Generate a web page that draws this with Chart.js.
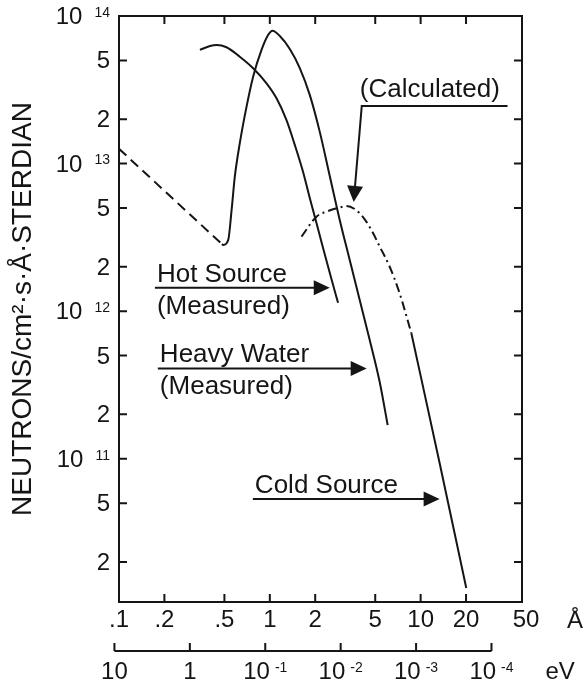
<!DOCTYPE html>
<html lang="en">
<head>
<meta charset="UTF-8">
<title>Neutron spectra</title>
<style>
  html, body { margin: 0; padding: 0; background: #fff; }
  canvas { display: block; }
</style>
</head>
<body>
<canvas id="myChart" width="587" height="692"></canvas>

<script src="https://cdn.jsdelivr.net/npm/chart.js"></script>
<script>
// values: wavelength in Å, flux in n/cm²·s·Å·sr
const heavyExtrapLambda = [0.1, 0.481];
const heavyExtrapFlux   = [1.26e13, 2.85e12];

const heavyLambda = [0.481, 0.491, 0.530, 0.558, 0.586, 0.632, 0.701, 0.775, 0.881, 0.974, 1.042, 1.165, 1.357, 1.580, 1.840, 2.144, 2.497, 2.908, 3.387, 3.945, 4.596, 5.353, 6.046];
const heavyFlux   = [2.85e12, 2.81e12, 3.04e12, 4.85e12, 8.15e12, 1.37e13, 2.43e13, 3.88e13, 5.89e13, 7.43e13, 7.95e13, 7.32e13, 5.98e13, 4.44e13, 2.92e13, 1.64e13, 8.24e12, 4.15e12, 2.22e12, 1.19e12, 6.38e11, 3.31e11, 1.69e11];

const hotLambda = [0.344, 0.401, 0.444, 0.516, 0.632, 0.775, 0.951, 1.108, 1.290, 1.464, 1.662, 1.840, 2.039, 2.254, 2.562, 2.834];
const hotFlux   = [5.89e13, 6.26e13, 6.36e13, 6.14e13, 5.30e13, 4.43e13, 3.50e13, 2.77e13, 1.97e13, 1.34e13, 8.77e12, 5.85e12, 3.96e12, 2.68e12, 1.65e12, 1.14e12];

const coldCalcLambda = [1.622, 2.039, 2.374, 3.058, 3.221, 3.945, 4.716, 5.353, 6.234, 7.26, 8.68];
const coldCalcFlux   = [3.20e12, 4.37e12, 4.72e12, 5.11e12, 5.16e12, 4.61e12, 3.55e12, 2.74e12, 2.00e12, 1.32e12, 7.08e11];

const coldLambda = [8.68, 13.36, 20.07];
const coldFlux   = [7.08e11, 9.37e10, 1.33e10];

// axes
const xTicks  = [0.1, 0.2, 0.5, 1, 2, 5, 10, 20, 50];
const xLabels = ['.1', '.2', '.5', '1', '2', '5', '10', '20', '50'];
const yTicks  = [1e14, 5e13, 2e13, 1e13, 5e12, 2e12, 1e12, 5e11, 2e11, 1e11, 5e10, 2e10];
const yLabels = ['10^14', '5', '2', '10^13', '5', '2', '10^12', '5', '2', '10^11', '5', '2'];
const evTicks  = [10, 1, 0.1, 0.01, 0.001, 0.0001];
const evLabels = ['10', '1', '10^-1', '10^-2', '10^-3', '10^-4'];
const EV_A2 = 0.087;   // E(eV) ~ EV_A2 / λ²  (as drawn on this figure)

const INK = '#151515';
const FONT = '"Liberation Sans", Arial, Helvetica, sans-serif';

function series(label, xs, ys, dash) {
    return {
        label: label,
        data: xs.map((v, i) => ({ x: v, y: ys[i] })),
        borderColor: INK,
        borderWidth: 2,
        borderDash: dash,
        pointRadius: 0,
        fill: false,
        cubicInterpolationMode: 'monotone'
    };
}

// draws "10^14" style labels with a raised small exponent
function drawPow(ctx, label, x, baseline, align, size, gap) {
    const [base, exp] = label.split('^');
    ctx.font = size + 'px ' + FONT;
    const wb = ctx.measureText(base).width;
    let we = 0;
    const small = Math.round(size * 0.6) + 'px ' + FONT;
    if (exp) { ctx.font = small; we = ctx.measureText(exp).width + gap; }
    const total = wb + we;
    let left = align === 'right' ? x - total : (align === 'center' ? x - total / 2 : x);
    ctx.textAlign = 'left';
    ctx.textBaseline = 'alphabetic';
    ctx.font = size + 'px ' + FONT;
    ctx.fillText(base, left, baseline);
    if (exp) {
        ctx.font = small;
        ctx.fillText(exp, left + wb + gap, baseline - size * 0.3);
    }
}

function arrowHead(ctx, tx, ty, angle, len, half) {
    ctx.save();
    ctx.translate(tx, ty);
    ctx.rotate(angle);
    ctx.beginPath();
    ctx.moveTo(0, 0);
    ctx.lineTo(-len, -half);
    ctx.lineTo(-len, half);
    ctx.closePath();
    ctx.fill();
    ctx.restore();
}

// labels pointing at the curves (anchored in data space)
const notes = [
    { lines: ['Hot Source', '(Measured)'], from: 0.173, to: 2.497, at: 1.44e12 },
    { lines: ['Heavy Water', '(Measured)'], from: 0.181, to: 4.39, at: 4.09e11 },
    { lines: ['Cold Source'], from: 0.772, to: 13.36, at: 5.34e10 }
];
const calcNote = { text: '(Calculated)', from: 4.07, to: 37.7, at: 2.46e13, tipX: 3.60, tipY: 5.5e12 };

const frame = {
    id: 'frame',
    afterDraw(chart) {
        const ctx = chart.ctx;
        const a = chart.chartArea;
        const x = chart.scales.x, y = chart.scales.y;
        const TICK = 8;
        ctx.save();
        ctx.strokeStyle = INK;
        ctx.fillStyle = INK;
        ctx.lineWidth = 2;

        // top and right edges of the box
        ctx.beginPath();
        ctx.moveTo(a.left, a.top);
        ctx.lineTo(a.right, a.top);
        ctx.lineTo(a.right, a.bottom);
        ctx.stroke();

        // inward ticks on all four sides
        ctx.beginPath();
        xTicks.forEach(v => {
            const px = x.getPixelForValue(v);
            if (px < a.left + 3 || px > a.right - 3) return;
            ctx.moveTo(px, a.bottom); ctx.lineTo(px, a.bottom - TICK);
            ctx.moveTo(px, a.top); ctx.lineTo(px, a.top + TICK);
        });
        yTicks.forEach(v => {
            const py = y.getPixelForValue(v);
            if (py < a.top + 3 || py > a.bottom - 3) return;
            ctx.moveTo(a.left, py); ctx.lineTo(a.left + TICK, py);
            ctx.moveTo(a.right, py); ctx.lineTo(a.right - TICK, py);
        });
        ctx.stroke();

        // y tick labels
        yTicks.forEach((v, i) => {
            const py = y.getPixelForValue(v);
            drawPow(ctx, yLabels[i], a.left - 9, py + 8, 'right', 24, 12);
        });

        // unit after the wavelength labels
        ctx.font = '24px ' + FONT;
        ctx.textAlign = 'left';
        ctx.textBaseline = 'alphabetic';
        ctx.fillText('Å', a.right + 45, a.bottom + 26);

        // energy axis
        const evY = a.bottom + 49;
        const evPx = e => x.getPixelForValue(Math.sqrt(EV_A2 / e));
        ctx.beginPath();
        ctx.moveTo(evPx(evTicks[0]), evY);
        ctx.lineTo(evPx(evTicks[evTicks.length - 1]), evY);
        evTicks.forEach(e => {
            ctx.moveTo(evPx(e), evY);
            ctx.lineTo(evPx(e), evY - 8);
        });
        ctx.stroke();
        evTicks.forEach((e, i) => {
            drawPow(ctx, evLabels[i], evPx(e), a.bottom + 77, 'center', 24, 5);
        });
        ctx.font = '24px ' + FONT;
        ctx.textAlign = 'left';
        ctx.fillText('eV', evPx(evTicks[evTicks.length - 1]) + 54, a.bottom + 77);

        // annotations
        ctx.font = '26px ' + FONT;
        notes.forEach(n => {
            const x0 = x.getPixelForValue(n.from);
            const x1 = x.getPixelForValue(n.to);
            const ly = y.getPixelForValue(n.at);
            ctx.fillText(n.lines[0], x0 + 2, ly - 6);
            if (n.lines[1]) ctx.fillText(n.lines[1], x0 + 2, ly + 26);
            ctx.beginPath();
            ctx.moveTo(x0, ly);
            ctx.lineTo(x1 - 12, ly);
            ctx.stroke();
            arrowHead(ctx, x1, ly, 0, 16, 7.5);
        });

        const cx0 = x.getPixelForValue(calcNote.from);
        const cx1 = x.getPixelForValue(calcNote.to);
        const cy = y.getPixelForValue(calcNote.at);
        const tx = x.getPixelForValue(calcNote.tipX);
        const ty = y.getPixelForValue(calcNote.tipY);
        ctx.fillText(calcNote.text, cx0 - 2, cy - 9);
        ctx.beginPath();
        ctx.moveTo(cx1, cy);
        ctx.lineTo(cx0, cy);
        const ang = Math.atan2(ty - cy, tx - cx0);
        ctx.lineTo(tx - Math.cos(ang) * 12, ty - Math.sin(ang) * 12);
        ctx.stroke();
        arrowHead(ctx, tx, ty, ang, 16, 8);

        ctx.restore();
    }
};

const chart = new Chart(document.getElementById('myChart'), {
    type: 'line',
    data: {
        datasets: [
            series('Heavy Water (extrapolated)', heavyExtrapLambda, heavyExtrapFlux, [10, 6]),
            series('Heavy Water (Measured)', heavyLambda, heavyFlux, []),
            series('Hot Source (Measured)', hotLambda, hotFlux, []),
            series('Cold Source (Calculated)', coldCalcLambda, coldCalcFlux, [9, 4, 2, 4]),
            series('Cold Source', coldLambda, coldFlux, [])
        ]
    },
    options: {
        responsive: false,
        animation: false,
        devicePixelRatio: 1,
        layout: { padding: { top: 16, right: 65, bottom: 0, left: 0 } },
        plugins: {
            legend: { display: false },
            tooltip: { enabled: false }
        },
        scales: {
            x: {
                type: 'logarithmic',
                position: 'bottom',
                min: 0.1,
                max: 47,
                afterBuildTicks: s => { s.ticks = xTicks.map(v => ({ value: v })); },
                afterFit: s => { s.height = 90; },
                grid: { display: false, drawTicks: false },
                border: { display: true, color: INK, width: 2 },
                ticks: {
                    autoSkip: false,
                    maxRotation: 0,
                    padding: 4,
                    color: INK,
                    font: { family: FONT, size: 24 },
                    callback: (v, i) => xLabels[i]
                }
            },
            y: {
                type: 'logarithmic',
                min: 1.07e10,
                max: 1e14,
                afterBuildTicks: s => { s.ticks = yTicks.map(v => ({ value: v })); },
                afterFit: s => { s.width = 119; },
                grid: { display: false, drawTicks: false },
                border: { display: true, color: INK, width: 2 },
                ticks: { display: false },
                title: {
                    display: true,
                    text: 'NEUTRONS/cm²·s·Å·STERDIAN',
                    color: INK,
                    font: { family: FONT, size: 28 },
                    padding: { top: 6, bottom: 0 }
                }
            }
        }
    },
    plugins: [frame]
});
</script>
</body>
</html>
